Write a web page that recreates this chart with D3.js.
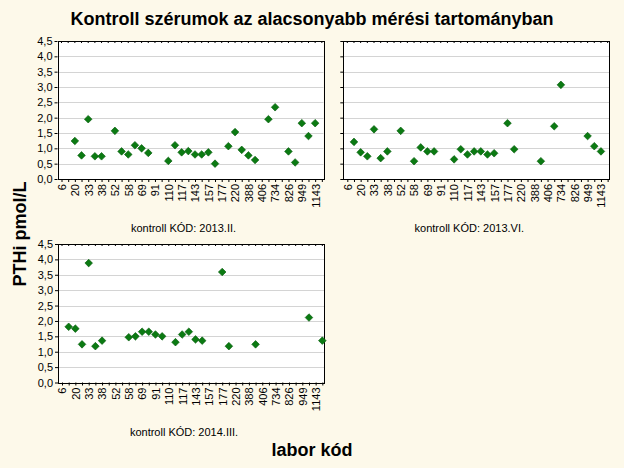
<!DOCTYPE html>
<html>
<head>
<meta charset="utf-8">
<script src="https://cdn.jsdelivr.net/npm/d3@7"></script>
<style>
  html, body { margin: 0; padding: 0; background: #FDF9EA; }
  svg { display: block; }
  text { font-family: "Liberation Sans", Arial, sans-serif; fill: #000; }
</style>
</head>
<body>
<svg id="chart" width="624" height="468"></svg>
<script>
// ---------- DATA ----------
const title = "Kontroll szérumok az alacsonyabb mérési tartományban";
const yTitle = "PTHi pmol/L";
const xTitle = "labor kód";
// 40 laboratory categories on the x axis; only every other one is labelled
const categoryCount = 40;
const xTickLabels = ["6","20","33","38","52","58","69","91","110","117","143","157","177","220","388","406","734","826","949","1143"];
const yTicks = [0, 0.5, 1, 1.5, 2, 2.5, 3, 3.5, 4, 4.5];

const panelTitles = ["kontroll KÓD: 2013.II.", "kontroll KÓD: 2013.VI.", "kontroll KÓD: 2014.III."];

// category index (0..39) and PTHi value for each control serum
const idx2013II = [2,3,4,5,6,8,9,10,11,12,13,16,17,18,19,20,21,22,23,25,26,27,28,29,31,32,34,35,36,37,38];
const val2013II = [1.24,0.77,1.95,0.74,0.74,1.57,0.90,0.80,1.10,1.00,0.85,0.59,1.10,0.87,0.91,0.80,0.80,0.87,0.50,1.07,1.53,0.95,0.77,0.62,1.95,2.34,0.90,0.54,1.82,1.40,1.82];

const idx2013VI = [1,2,3,4,5,6,8,10,11,12,13,16,17,18,19,20,21,22,24,25,29,31,32,36,37,38];
const val2013VI = [1.21,0.87,0.74,1.62,0.68,0.90,1.57,0.58,1.03,0.90,0.90,0.64,0.97,0.80,0.90,0.90,0.80,0.84,1.82,0.97,0.58,1.72,3.07,1.40,1.07,0.90];

const idx2014III = [1,2,3,4,5,6,10,11,12,13,14,15,17,18,19,20,21,24,25,29,37,39];
const val2014III = [1.81,1.75,1.24,3.88,1.18,1.36,1.47,1.50,1.65,1.65,1.56,1.50,1.31,1.56,1.65,1.40,1.36,3.59,1.18,1.24,2.11,1.36];

// ---------- LAYOUT ----------
const svg = d3.select("#chart");
svg.append("rect").attr("width", 624).attr("height", 468).attr("fill", "#FDF9EA");

const panels = [
  { left: 57.5, top: 41,  w: 266, h: 138, idx: idx2013II,  val: val2013II,  title: panelTitles[0], yLabels: true },
  { left: 343.3, top: 41, w: 266, h: 138, idx: idx2013VI,  val: val2013VI,  title: panelTitles[1], yLabels: false },
  { left: 58,   top: 244, w: 266, h: 138.5, idx: idx2014III, val: val2014III, title: panelTitles[2], yLabels: true }
];

const markerColor = "#0B7A12";
const markerStroke = "#075C0C";
const diamond = d3.symbol().type(d3.symbolSquare).size(29);

panels.forEach(p => {
  const x = d3.scaleLinear().domain([-0.6, 39.25]).range([p.left, p.left + p.w]);
  const y = d3.scaleLinear().domain([0, 4.5]).range([p.top + p.h, p.top]);
  const g = svg.append("g");

  // plot background
  g.append("rect").attr("x", p.left).attr("y", p.top).attr("width", p.w).attr("height", p.h)
    .attr("fill", "#FFFFFF");

  // gridlines
  g.append("g").selectAll("line").data(yTicks.filter(t => t > 0 && t < 4.5)).join("line")
    .attr("x1", p.left).attr("x2", p.left + p.w)
    .attr("y1", d => Math.round(y(d)) + 0.5).attr("y2", d => Math.round(y(d)) + 0.5)
    .attr("stroke", "#D4D4D4").attr("stroke-width", 1);

  // y axis
  const yAxis = d3.axisLeft(y).tickValues(yTicks).tickSize(3).tickPadding(2)
    .tickFormat(d => p.yLabels ? d3.format(".1f")(d).replace(".", ",") : "");
  const ya = g.append("g").attr("transform", `translate(${p.left},0)`).call(yAxis);
  ya.select(".domain").remove();
  ya.selectAll("line").attr("stroke", "#000");
  ya.selectAll("text").style("font-size", "11px").style("font-family", "'Liberation Sans', Arial, sans-serif");

  // x axis bottom: ticks at every category, labels on every other
  const catTicks = d3.range(categoryCount);
  const xAxis = d3.axisBottom(x).tickValues(catTicks).tickSize(3).tickPadding(2)
    .tickFormat(d => d % 2 === 0 ? xTickLabels[d / 2] : "");
  const xa = g.append("g").attr("transform", `translate(0,${p.top + p.h})`).call(xAxis);
  xa.select(".domain").remove();
  xa.selectAll("line").attr("stroke", "#000");
  xa.selectAll("text")
    .style("font-size", "11px").style("font-family", "'Liberation Sans', Arial, sans-serif")
    .attr("transform", "rotate(-90)")
    .attr("text-anchor", "end")
    .attr("dy", "0.35em")
    .attr("x", -5).attr("y", 0);

  // top inner ticks
  g.append("g").selectAll("line").data(catTicks).join("line")
    .attr("x1", d => x(d)).attr("x2", d => x(d))
    .attr("y1", p.top).attr("y2", p.top + 2)
    .attr("stroke", "#000").attr("stroke-width", 1);

  // frame
  g.append("rect").attr("x", Math.round(p.left) + 0.5).attr("y", Math.round(p.top) + 0.5)
    .attr("width", Math.round(p.w)).attr("height", Math.round(p.h))
    .attr("fill", "none").attr("stroke", "#000").attr("stroke-width", 1);

  // points
  const pts = p.idx.map((c, i) => ({ c, v: p.val[i] }));
  g.append("g").selectAll("path").data(pts).join("path")
    .attr("d", diamond)
    .attr("transform", d => `translate(${x(d.c)},${y(d.v)}) rotate(45)`)
    .attr("fill", markerColor).attr("stroke", markerStroke).attr("stroke-width", 0.6);

  // panel title
  g.append("text").attr("x", p.left + p.w / 2 - 7).attr("y", p.top + p.h + 53)
    .attr("text-anchor", "middle").style("font-size", "11px").text(p.title);
});

// main titles
svg.append("text").attr("x", 312).attr("y", 25).attr("text-anchor", "middle")
  .style("font-size", "18px").style("font-weight", "bold").text(title);
svg.append("text").attr("transform", "translate(26,234) rotate(-90)").attr("text-anchor", "middle")
  .style("font-size", "18px").style("font-weight", "bold").text(yTitle);
svg.append("text").attr("x", 312).attr("y", 456).attr("text-anchor", "middle")
  .style("font-size", "18px").style("font-weight", "bold").text(xTitle);
</script>
</body>
</html>
